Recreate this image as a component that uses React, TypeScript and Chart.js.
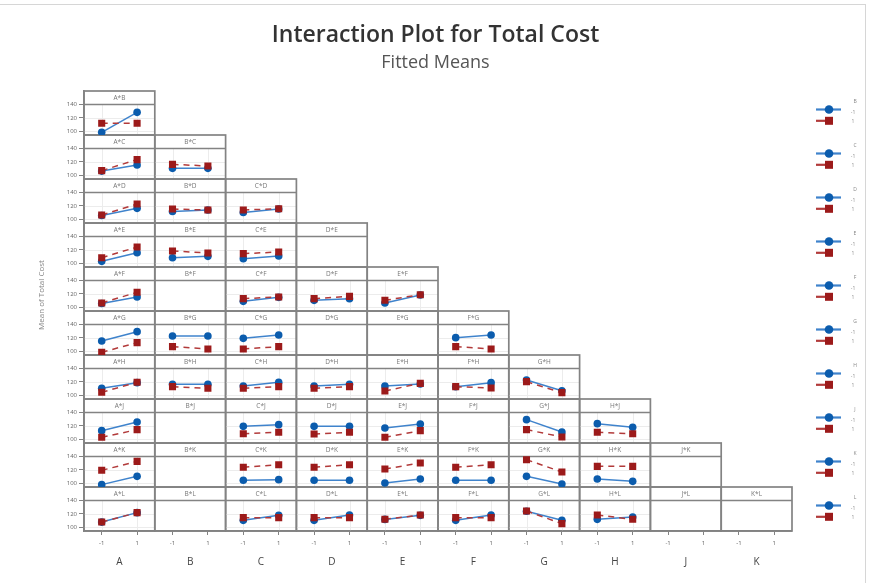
import React, { useEffect, useRef } from 'react';
import { Chart, registerables } from 'chart.js';

Chart.register(...registerables);

// Factors: columns hold the first factor of each term, rows the second factor
const colFactors = ['A', 'B', 'C', 'D', 'E', 'F', 'G', 'H', 'J', 'K'];
const rowFactors = ['B', 'C', 'D', 'E', 'F', 'G', 'H', 'J', 'K', 'L'];
const levels = [-1, 1];
const yTickValues = [100, 120, 140];

// Interaction terms in the model (others are shown as empty panels)
const terms = [
  'A*B',
  'A*C', 'B*C',
  'A*D', 'B*D', 'C*D',
  'A*E', 'B*E', 'C*E',
  'A*F', 'C*F', 'D*F', 'E*F',
  'A*G', 'B*G', 'C*G', 'F*G',
  'A*H', 'B*H', 'C*H', 'D*H', 'E*H', 'F*H', 'G*H',
  'A*J', 'C*J', 'D*J', 'E*J', 'G*J', 'H*J',
  'A*K', 'C*K', 'D*K', 'E*K', 'F*K', 'G*K', 'H*K',
  'A*L', 'C*L', 'D*L', 'E*L', 'F*L', 'G*L', 'H*L',
];

// Fitted means when the second factor is at -1 (blue), at first-factor -1 and +1
const lowMeans = [
  [98.8, 128.4],
  [106.5, 115.6], [110.6, 110.6],
  [106, 116.5], [112, 114], [110.5, 115.5],
  [103.2, 116], [108.6, 110.6], [107.2, 111.1],
  [106, 115.6], [109.1, 115], [110.6, 113], [106.7, 118.5],
  [115.6, 129.4], [123, 123], [119.5, 124.4], [120.5, 124.4],
  [110.6, 119], [116.5, 116.5], [114.1, 119.5], [114.1, 116.5], [114.1, 117], [113, 119], [123, 107],
  [113.1, 125.9], [119.5, 122], [119.5, 119.5], [117, 123], [129.4, 111.1], [123.5, 118],
  [98.3, 110.6], [104.7, 105.7], [104.7, 104.7], [100.7, 106.7], [104.7, 104.7], [110.6, 99.3], [106.7, 103.2],
  [108, 122], [110.6, 118], [110.6, 118.5], [112, 118], [110.6, 118.5], [124, 110.6], [112.1, 115.6],
];

// Fitted means when the second factor is at +1 (red)
const highMeans = [
  [112.1, 112.1],
  [107.2, 123.5], [116.5, 114.1],
  [106.7, 123], [115.5, 114], [114, 116],
  [108.6, 124.4], [118.5, 115.6], [114.6, 117],
  [106.7, 122.5], [113.1, 115.6], [113.1, 116.5], [110.6, 119],
  [98.8, 113.1], [107.2, 103.7], [103.7, 107.2], [107.2, 103.7],
  [104.7, 119.5], [113.1, 110.6], [110.6, 113.1], [110.6, 113.1], [106.7, 118], [113.1, 111.1], [120.5, 104.2],
  [103.2, 114.6], [108.6, 110.6], [108.1, 110.6], [103.2, 113.1], [114.6, 103.7], [110.6, 108.6],
  [119.5, 132.8], [124, 127.9], [124, 127.9], [121.5, 130.4], [124, 127.9], [135.3, 117], [125.4, 125.4],
  [108.1, 122], [114.6, 114.6], [114.6, 114.6], [112.1, 118.5], [114.6, 114.6], [124.4, 105.7], [118.5, 112.1],
];

const FONT = "'Open Sans', 'Noto Sans', sans-serif";
const BLUE = '#0b5cad';
const BLUE_LINE = '#3f83cc';
const RED = '#9c1a1a';
const RED_LINE = '#b23a3a';
const FRAME = '#838383';

const panelPlugin = {
  id: 'panelFrames',
  beforeDatasetsDraw(chart: any) {
    const ctx = chart.ctx;
    ctx.save();
    for (let r = 0; r < rowFactors.length; r++) {
      const ys = chart.scales['y' + r];
      const top = ys.top;
      const bottom = ys.bottom;
      const hdr = ys.getPixelForValue(140);
      for (let c = 0; c <= r; c++) {
        const xs = chart.scales['x' + c];
        const left = xs.left;
        const right = xs.right;
        const term = colFactors[c] + '*' + rowFactors[r];
        if (terms.includes(term)) {
          ctx.strokeStyle = '#ececec';
          ctx.lineWidth = 1;
          ctx.beginPath();
          for (const v of [100, 120]) {
            const py = Math.round(ys.getPixelForValue(v)) + 0.5;
            ctx.moveTo(left, py);
            ctx.lineTo(right, py);
          }
          for (const v of levels) {
            const px = Math.round(xs.getPixelForValue(v)) + 0.5;
            ctx.moveTo(px, hdr);
            ctx.lineTo(px, bottom);
          }
          ctx.stroke();
        }
        ctx.fillStyle = '#777';
        ctx.font = '6.5px ' + FONT;
        ctx.textAlign = 'center';
        ctx.textBaseline = 'middle';
        ctx.fillText(term, (left + right) / 2, (top + hdr) / 2 + 0.5);
        ctx.strokeStyle = FRAME;
        ctx.lineWidth = 1.7;
        ctx.strokeRect(left, top, right - left, bottom - top);
        ctx.beginPath();
        ctx.moveTo(left, hdr);
        ctx.lineTo(right, hdr);
        ctx.stroke();
      }
    }
    ctx.restore();
  },
  afterDraw(chart: any) {
    const ctx = chart.ctx;
    ctx.save();
    // y-axis title
    ctx.fillStyle = '#888';
    ctx.font = '8px ' + FONT;
    ctx.textAlign = 'center';
    ctx.textBaseline = 'middle';
    ctx.translate(42, 295);
    ctx.rotate(-Math.PI / 2);
    ctx.fillText('Mean of Total Cost', 0, 0);
    ctx.restore();

    // legends, one per row factor
    ctx.save();
    for (let g = 0; g < rowFactors.length; g++) {
      const top = chart.scales['y' + g].top;
      const yb = top + 18.5;
      const yr = top + 29.8;
      ctx.fillStyle = '#888';
      ctx.font = '5px ' + FONT;
      ctx.textAlign = 'center';
      ctx.textBaseline = 'middle';
      ctx.fillText(rowFactors[g], 855, top + 10.7);
      ctx.fillText('-1', 853, yb + 3);
      ctx.fillText('1', 853, yr + 0.5);
      ctx.strokeStyle = BLUE_LINE;
      ctx.lineWidth = 2.2;
      ctx.beginPath();
      ctx.moveTo(816, yb);
      ctx.lineTo(841, yb);
      ctx.stroke();
      ctx.fillStyle = BLUE;
      ctx.beginPath();
      ctx.arc(829, yb, 4.3, 0, Math.PI * 2);
      ctx.fill();
      ctx.strokeStyle = RED_LINE;
      ctx.beginPath();
      ctx.moveTo(816, yr);
      ctx.lineTo(828, yr);
      ctx.stroke();
      ctx.fillStyle = RED;
      ctx.fillRect(825, yr - 4, 8, 8);
    }
    ctx.restore();
  },
};

export default function App() {
  const ref = useRef<HTMLCanvasElement>(null);

  useEffect(() => {
    if (!ref.current) return;
    const scales: any = {};
    rowFactors.forEach((f, r) => {
      scales['y' + r] = {
        type: 'linear',
        position: 'left',
        stack: 'rows',
        stackWeight: 1,
        weight: 10 - r,
        min: 94.8,
        max: 160,
        afterBuildTicks: (s: any) => {
          s.ticks = yTickValues.map((v) => ({ value: v }));
        },
        afterFit: (s: any) => {
          s.width = 84;
        },
        grid: { drawOnChartArea: false, drawTicks: true, tickLength: 5, color: FRAME },
        border: { display: true, color: FRAME, width: 1.7 },
        ticks: {
          font: { size: 6, family: FONT },
          color: '#666',
          padding: 2,
          callback: (v: any) => String(v),
        },
      };
    });
    // invisible spacer on the right that reserves room for the legends
    scales['ySpacer'] = {
      type: 'linear',
      axis: 'y',
      position: 'right',
      display: true,
      grid: { display: false, drawTicks: false },
      border: { display: false },
      ticks: { display: false },
      afterFit: (s: any) => {
        s.width = 79;
      },
    };
    colFactors.forEach((f, c) => {
      scales['x' + c] = {
        type: 'linear',
        position: 'bottom',
        stack: 'cols',
        stackWeight: 1,
        weight: c,
        min: -2,
        max: 2,
        afterBuildTicks: (s: any) => {
          s.ticks = levels.map((v) => ({ value: v }));
        },
        afterFit: (s: any) => {
          s.height = 52;
        },
        grid: { drawOnChartArea: false, drawTicks: true, tickLength: 4, color: FRAME },
        border: { display: true, color: FRAME, width: 1.7 },
        ticks: {
          font: { size: 6, family: FONT },
          color: '#666',
          padding: 5,
          maxRotation: 0,
          autoSkip: false,
          callback: (v: any) => String(v),
        },
        title: {
          display: true,
          text: f,
          font: { size: 10, family: FONT },
          color: '#444',
          padding: { top: 0, bottom: 14.5 },
        },
      };
    });

    const datasets: any[] = [];
    terms.forEach((t, i) => {
      const [a, b] = t.split('*');
      const c = colFactors.indexOf(a);
      const r = rowFactors.indexOf(b);
      datasets.push({
        label: t + ' (' + b + ' = 1)',
        xAxisID: 'x' + c,
        yAxisID: 'y' + r,
        data: levels.map((x, k) => ({ x, y: highMeans[i][k] })),
        borderColor: RED_LINE,
        borderWidth: 1.5,
        borderDash: [6, 5],
        pointStyle: 'rect',
        pointRadius: 5,
        pointBackgroundColor: RED,
        pointBorderColor: RED,
        pointBorderWidth: 0,
        order: 0,
      });
      datasets.push({
        label: t + ' (' + b + ' = -1)',
        xAxisID: 'x' + c,
        yAxisID: 'y' + r,
        data: levels.map((x, k) => ({ x, y: lowMeans[i][k] })),
        borderColor: BLUE_LINE,
        borderWidth: 1.5,
        pointStyle: 'circle',
        pointRadius: 3.8,
        pointBackgroundColor: BLUE,
        pointBorderColor: BLUE,
        pointBorderWidth: 0,
        order: 1,
      });
    });

    const chart = new Chart(ref.current, {
      type: 'line',
      data: { datasets },
      options: {
        responsive: false,
        animation: false,
        devicePixelRatio: 1,
        events: [],
        layout: { padding: { left: 0, right: 0, top: 0, bottom: 0 } },
        scales,
        plugins: {
          legend: { display: false },
          tooltip: { enabled: false },
          title: {
            display: true,
            text: 'Interaction Plot for Total Cost',
            color: '#333',
            font: { size: 23, weight: '600', family: FONT },
            padding: { top: 22, bottom: 0 },
          },
          subtitle: {
            display: true,
            text: 'Fitted Means',
            color: '#555',
            font: { size: 18, family: FONT },
            padding: { top: 2, bottom: 17.8 },
          },
        },
      },
      plugins: [panelPlugin],
    } as any);
    return () => chart.destroy();
  }, []);

  return (
    <div style={{ position: 'absolute', left: 0, top: 0, width: 871, height: 583, background: '#fff', overflow: 'hidden' }}>
      <canvas ref={ref} width={871} height={583} style={{ display: 'block' }} />
      <div
        style={{
          position: 'absolute',
          left: -2,
          top: 4,
          width: 867,
          height: 600,
          borderTop: '1px solid #d6d6d6',
          borderRight: '1px solid #d6d6d6',
          pointerEvents: 'none',
        }}
      />
    </div>
  );
}
